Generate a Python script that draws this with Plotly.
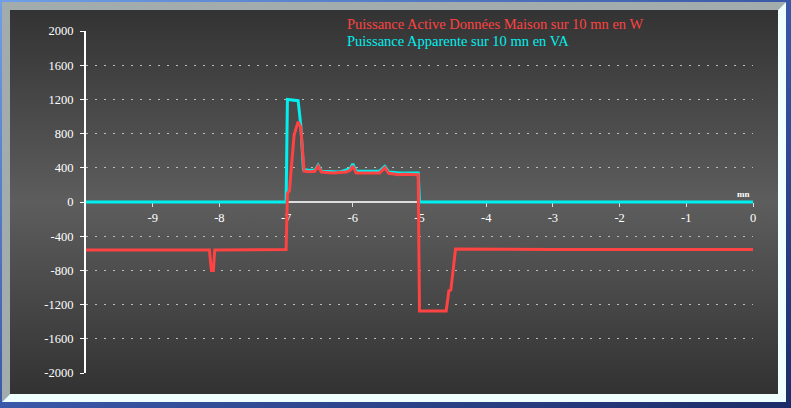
import base64
import plotly.graph_objects as go

# ---------------- data ----------------
active_x = [-10, -8.5, -8.15, -8.12, -8.09, -8.07, -7.5, -7.0, -6.98, -6.95, -6.88, -6.82, -6.78,
            -6.73, -6.64, -6.57, -6.52, -6.47, -6.3, -6.1, -6.04, -6.0, -5.95, -5.6, -5.52,
            -5.46, -5.3, -5.25, -5.02, -5.0, -4.6, -4.56, -4.53, -4.46, -3.0, -1.0, 0.0]
active_y = [-560, -555, -560, -800, -800, -560, -555, -555, 100, 130, 780, 940, 870,
            360, 355, 360, 420, 350, 340, 350, 370, 420, 340, 340, 400,
            335, 320, 325, 320, -1275, -1275, -1040, -1030, -550, -555, -555, -555]

apparent_x = [-10, -7.0, -6.98, -6.85, -6.82, -6.78, -6.74, -6.64, -6.57, -6.52, -6.47, -6.2,
              -6.04, -6.0, -5.95, -5.6, -5.52, -5.46, -5.3, -5.02, -5.0, 0.0]
apparent_y = [0, 0, 1200, 1190, 1185, 900, 380, 370, 370, 430, 360, 350,
              390, 445, 360, 360, 415, 350, 340, 340, 0, 0]

x_tickvals = [-9, -8, -7, -6, -5, -4, -3, -2, -1, 0]
x_ticktext = ["-9", "-8", "-7", "-6", "-5", "-4", "-3", "-2", "-1", "0"]
y_tickvals = [2000, 1600, 1200, 800, 400, 0, -400, -800, -1200, -1600, -2000]
y_ticktext = ["2000", "1600", "1200", "800", "400", "0", "-400", "-800", "-1200", "-1600", "-2000"]

label_active = "Puissance Active Données Maison sur 10 mn en W"
label_apparent = "Puissance Apparente sur 10 mn en VA"

# ---------------- layout geometry ----------------
W, H = 791, 408
L, R, T, B = 86, 38, 31, 35
PW, PH = W - L - R, H - T - B

RED = "#ff4242"
CYAN = "#00f0f0"
FONT = "'Liberation Serif', 'Times New Roman', serif"

svg = f'''<svg xmlns="http://www.w3.org/2000/svg" width="{W}" height="{H}" viewBox="0 0 {W} {H}">
<defs>
<linearGradient id="o" x1="0" y1="0" x2="1" y2="1">
<stop offset="0" stop-color="#6f9fe8"/><stop offset="0.5" stop-color="#3a58a8"/><stop offset="1" stop-color="#1d2c68"/>
</linearGradient>
<linearGradient id="p" x1="0" y1="0" x2="0" y2="1">
<stop offset="0" stop-color="#333333"/><stop offset="0.5" stop-color="#5d5d5d"/><stop offset="1" stop-color="#323232"/>
</linearGradient>
</defs>
<rect x="0" y="0" width="{W}" height="{H}" fill="url(#o)"/>
<polygon points="2,2 786,2 778,10 10,10 10,394 2,402" fill="#a3acac"/>
<polygon points="786,2 786,402 2,402 10,394 778,394 778,10" fill="#eefffe"/>
<rect x="10" y="10" width="768" height="384" fill="url(#p)"/>
</svg>'''
src = "data:image/svg+xml;base64," + base64.b64encode(svg.encode()).decode()

fig = go.Figure()
fig.add_trace(go.Scatter(x=apparent_x, y=apparent_y, mode="lines", name=label_apparent,
                         line=dict(color=CYAN, width=3), hoverinfo="skip"))
fig.add_trace(go.Scatter(x=active_x, y=active_y, mode="lines", name=label_active,
                         line=dict(color=RED, width=3), hoverinfo="skip"))

fig.update_layout(
    width=W, height=H,
    margin=dict(l=L, r=R, t=T, b=B, pad=0, autoexpand=False),
    paper_bgcolor="#3a3a3a",
    plot_bgcolor="rgba(0,0,0,0)",
    showlegend=False,
    font=dict(family=FONT, color="white", size=12),
    images=[dict(source=src, xref="paper", yref="paper",
                 x=-L / PW, y=1 + T / PH, sizex=W / PW, sizey=H / PH,
                 xanchor="left", yanchor="top", sizing="stretch", layer="below")],
    xaxis=dict(range=[-10, 0], anchor="free", position=0.5,
               showgrid=False, zeroline=False,
               showline=True, linecolor="#dddddd", linewidth=2,
               ticks="outside", ticklen=4, tickcolor="#dddddd", tickwidth=1,
               tickvals=x_tickvals, ticktext=x_ticktext,
               tickfont=dict(family=FONT, size=12.5, color="white"),
               layer="below traces", fixedrange=True),
    yaxis=dict(range=[-2000, 2000], showgrid=True, gridcolor="#bdbdbd", gridwidth=1,
               griddash="2px,7px", zeroline=False,
               showline=True, linecolor="white", linewidth=2,
               ticks="outside", ticklen=4, tickcolor="white",
               ticklabelstandoff=4,
               tickvals=y_tickvals, ticktext=y_ticktext,
               tickfont=dict(family=FONT, size=12.5, color="white"),
               layer="below traces", fixedrange=True),
    annotations=[
        dict(text=label_active, xref="paper", yref="paper", x=(345 - L) / PW, y=1 + (T - 24) / PH,
             xanchor="left", yanchor="middle", showarrow=False,
             font=dict(family=FONT, size=14.5, color=RED)),
        dict(text=label_apparent, xref="paper", yref="paper", x=(345 - L) / PW, y=1 - (41 - T) / PH,
             xanchor="left", yanchor="middle", showarrow=False,
             font=dict(family=FONT, size=14.5, color=CYAN)),
        dict(text="<b>mn</b>", xref="x", yref="y", x=0, y=0, xanchor="right", yanchor="bottom",
             xshift=-1, yshift=1, showarrow=False,
             font=dict(family=FONT, size=9, color="white")),
    ],
)

fig.write_html("out.html", config={"displayModeBar": False},
               post_script="document.body.style.margin='0';document.body.style.overflow='hidden';")
